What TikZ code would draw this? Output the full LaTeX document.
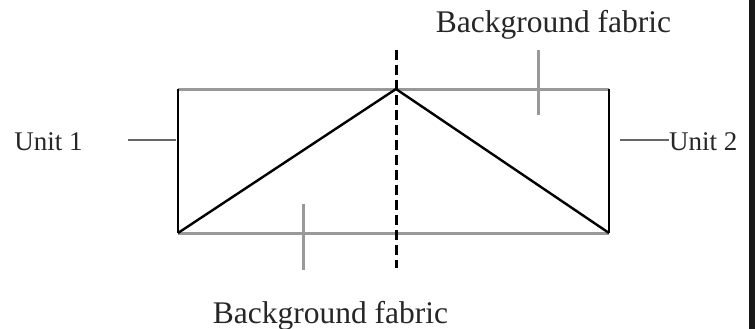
\documentclass[tikz,border=0pt]{standalone}
\usepackage{fontspec}
\setmainfont{Liberation Serif}
\tikzset{
  lbl/.style={inner sep=0pt, anchor=base, font=\fontsize{31.5}{36}\selectfont, text=black!85},
  ulbl/.style={inner sep=0pt, anchor=base, font=\fontsize{27}{32}\selectfont, text=black!85},
  fabric/.style={draw=black!40, line width=3pt},
  seam/.style={draw=black, line width=2pt},
  diag/.style={draw=black, line width=2.4pt},
  fold/.style={draw=black, line width=3pt, dash pattern=on 10pt off 5pt},
  tick/.style={draw=black!40, line width=3pt},
  pointer/.style={draw=black!60, line width=1.3pt}
}
\begin{document}
\begin{tikzpicture}[x=1pt,y=-1pt]
\useasboundingbox (0,0) rectangle (755,329);
\fill[black!90] (749,0) rectangle (755,329);
% corners
\coordinate (tl) at (178,89);
\coordinate (tr) at (609,89);
\coordinate (bl) at (178,233);
\coordinate (br) at (609,233);
\coordinate (apex) at (396,89);
% fold line ends
\coordinate (foldtop) at (396,50);
\coordinate (foldbot) at (396,268);
% ticks
\coordinate (t1a) at (538,50);
\coordinate (t1b) at (538,115);
\coordinate (t2a) at (303,204);
\coordinate (t2b) at (303,270);
% pointer lines
\coordinate (u1a) at (128,140);
\coordinate (u1b) at (176,140);
\coordinate (u2a) at (620,140);
% fabric edges
\draw[fabric] (tl) -- (tr);
\draw[fabric] (bl) -- (br);
\draw[tick] (t1a) -- (t1b);
\draw[tick] (t2a) -- (t2b);
% seams
\draw[seam] (tl) -- (bl);
\draw[seam] (tr) -- (br);
\draw[diag] (bl) -- (apex) -- (br);
\draw[fold] (foldtop) -- (foldbot);
% labels
\node[lbl] (bgtop) at (553.5,33) {Background fabric};
\node[lbl] (bgbot) at (330.5,323) {Background fabric};
\node[ulbl] (unit1) at (48.5,150) {Unit 1};
\node[ulbl, anchor=base west] (unit2) at (669,150) {Unit 2};
\draw[pointer] (u1a) -- (u1b);
\draw[pointer] (u2a) -- (unit2.west |- u2a);
\end{tikzpicture}
\end{document}
